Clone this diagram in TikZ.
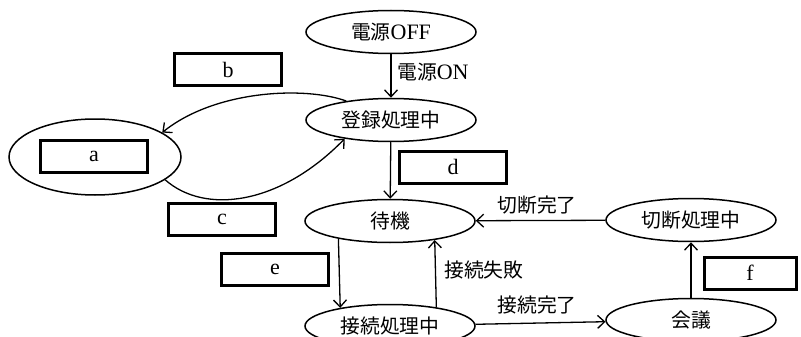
\documentclass[tikz,border=0pt]{standalone}
\usepackage{fontspec}
\setmainfont{Liberation Serif}
\newfontfamily\jp[Scale=0.9]{Noto Sans CJK JP}
\usetikzlibrary{shapes.geometric,arrows.meta}
\begin{document}
\begin{tikzpicture}[x=1pt,y=-1pt,
  state/.style={ellipse,draw,line width=1.5pt,minimum width=170pt,minimum height=43pt,inner sep=0pt,font=\fontsize{22}{24}\selectfont},
  blank/.style={draw,line width=3pt,minimum width=107pt,minimum height=32pt,inner sep=0pt,font=\fontsize{22}{24}\selectfont},
  tr/.style={line width=1.3pt,-{Straight Barb[length=7pt,width=13pt,line width=1.3pt]}},
  lbl/.style={font=\fontsize{22}{24}\selectfont,inner sep=0pt}]
\useasboundingbox (0,0) rectangle (801,337);
\begin{scope}
\clip (0,0) rectangle (801,337);
% states
\node[state] (off)  at (391,32)  {{\jp 電源}OFF};
\node[state] (reg)  at (391,120) {\jp 登録処理中};
\node[state] (wait) at (390,221) {\jp 待機};
\node[state] (conn) at (390,326) {\jp 接続処理中};
\node[state] (disc) at (691,220) {\jp 切断処理中};
\node[state] (meet) at (691,320) {\jp 会議};
\node[state,minimum width=172pt,minimum height=76pt] (aell) at (95,157) {};
% blanks
\node[blank] (ba) at (94,156)  {a};
\node[blank] (bb) at (228,70)  {b};
\node[blank] (bc) at (222,219) {c};
\node[blank] (bd) at (453,167) {d};
\node[blank] (be) at (275,269) {e};
\node[blank,minimum width=92pt] (bf) at (750,273) {f};
% transitions
\draw[tr] (off) -- (reg);
\draw[tr] (reg.157.8) .. controls (305,86) and (215,90) .. (aell.20.5);
\draw[tr] (aell.342.6) .. controls (205,215) and (280,205) .. (reg.202.2);
\draw[tr] (reg) -- (wait);
\draw[tr] (wait.199.6) -- (conn.160.4);
\draw[tr] (conn.22.6) -- (wait.337.4);
\draw[tr] (conn) -- (meet);
\draw[tr] (meet) -- (disc);
\draw[tr] (disc) -- (wait);
% labels
\node[lbl,anchor=west] (lon) at (397,72) {{\jp 電源}ON};
\node[lbl,anchor=west] (lfail) at (444,270) {\jp 接続失敗};
\node[lbl] (lok) at (537,305) {\jp 接続完了};
\node[lbl] (ldisc) at (537,205) {\jp 切断完了};
\end{scope}
\end{tikzpicture}
\end{document}
